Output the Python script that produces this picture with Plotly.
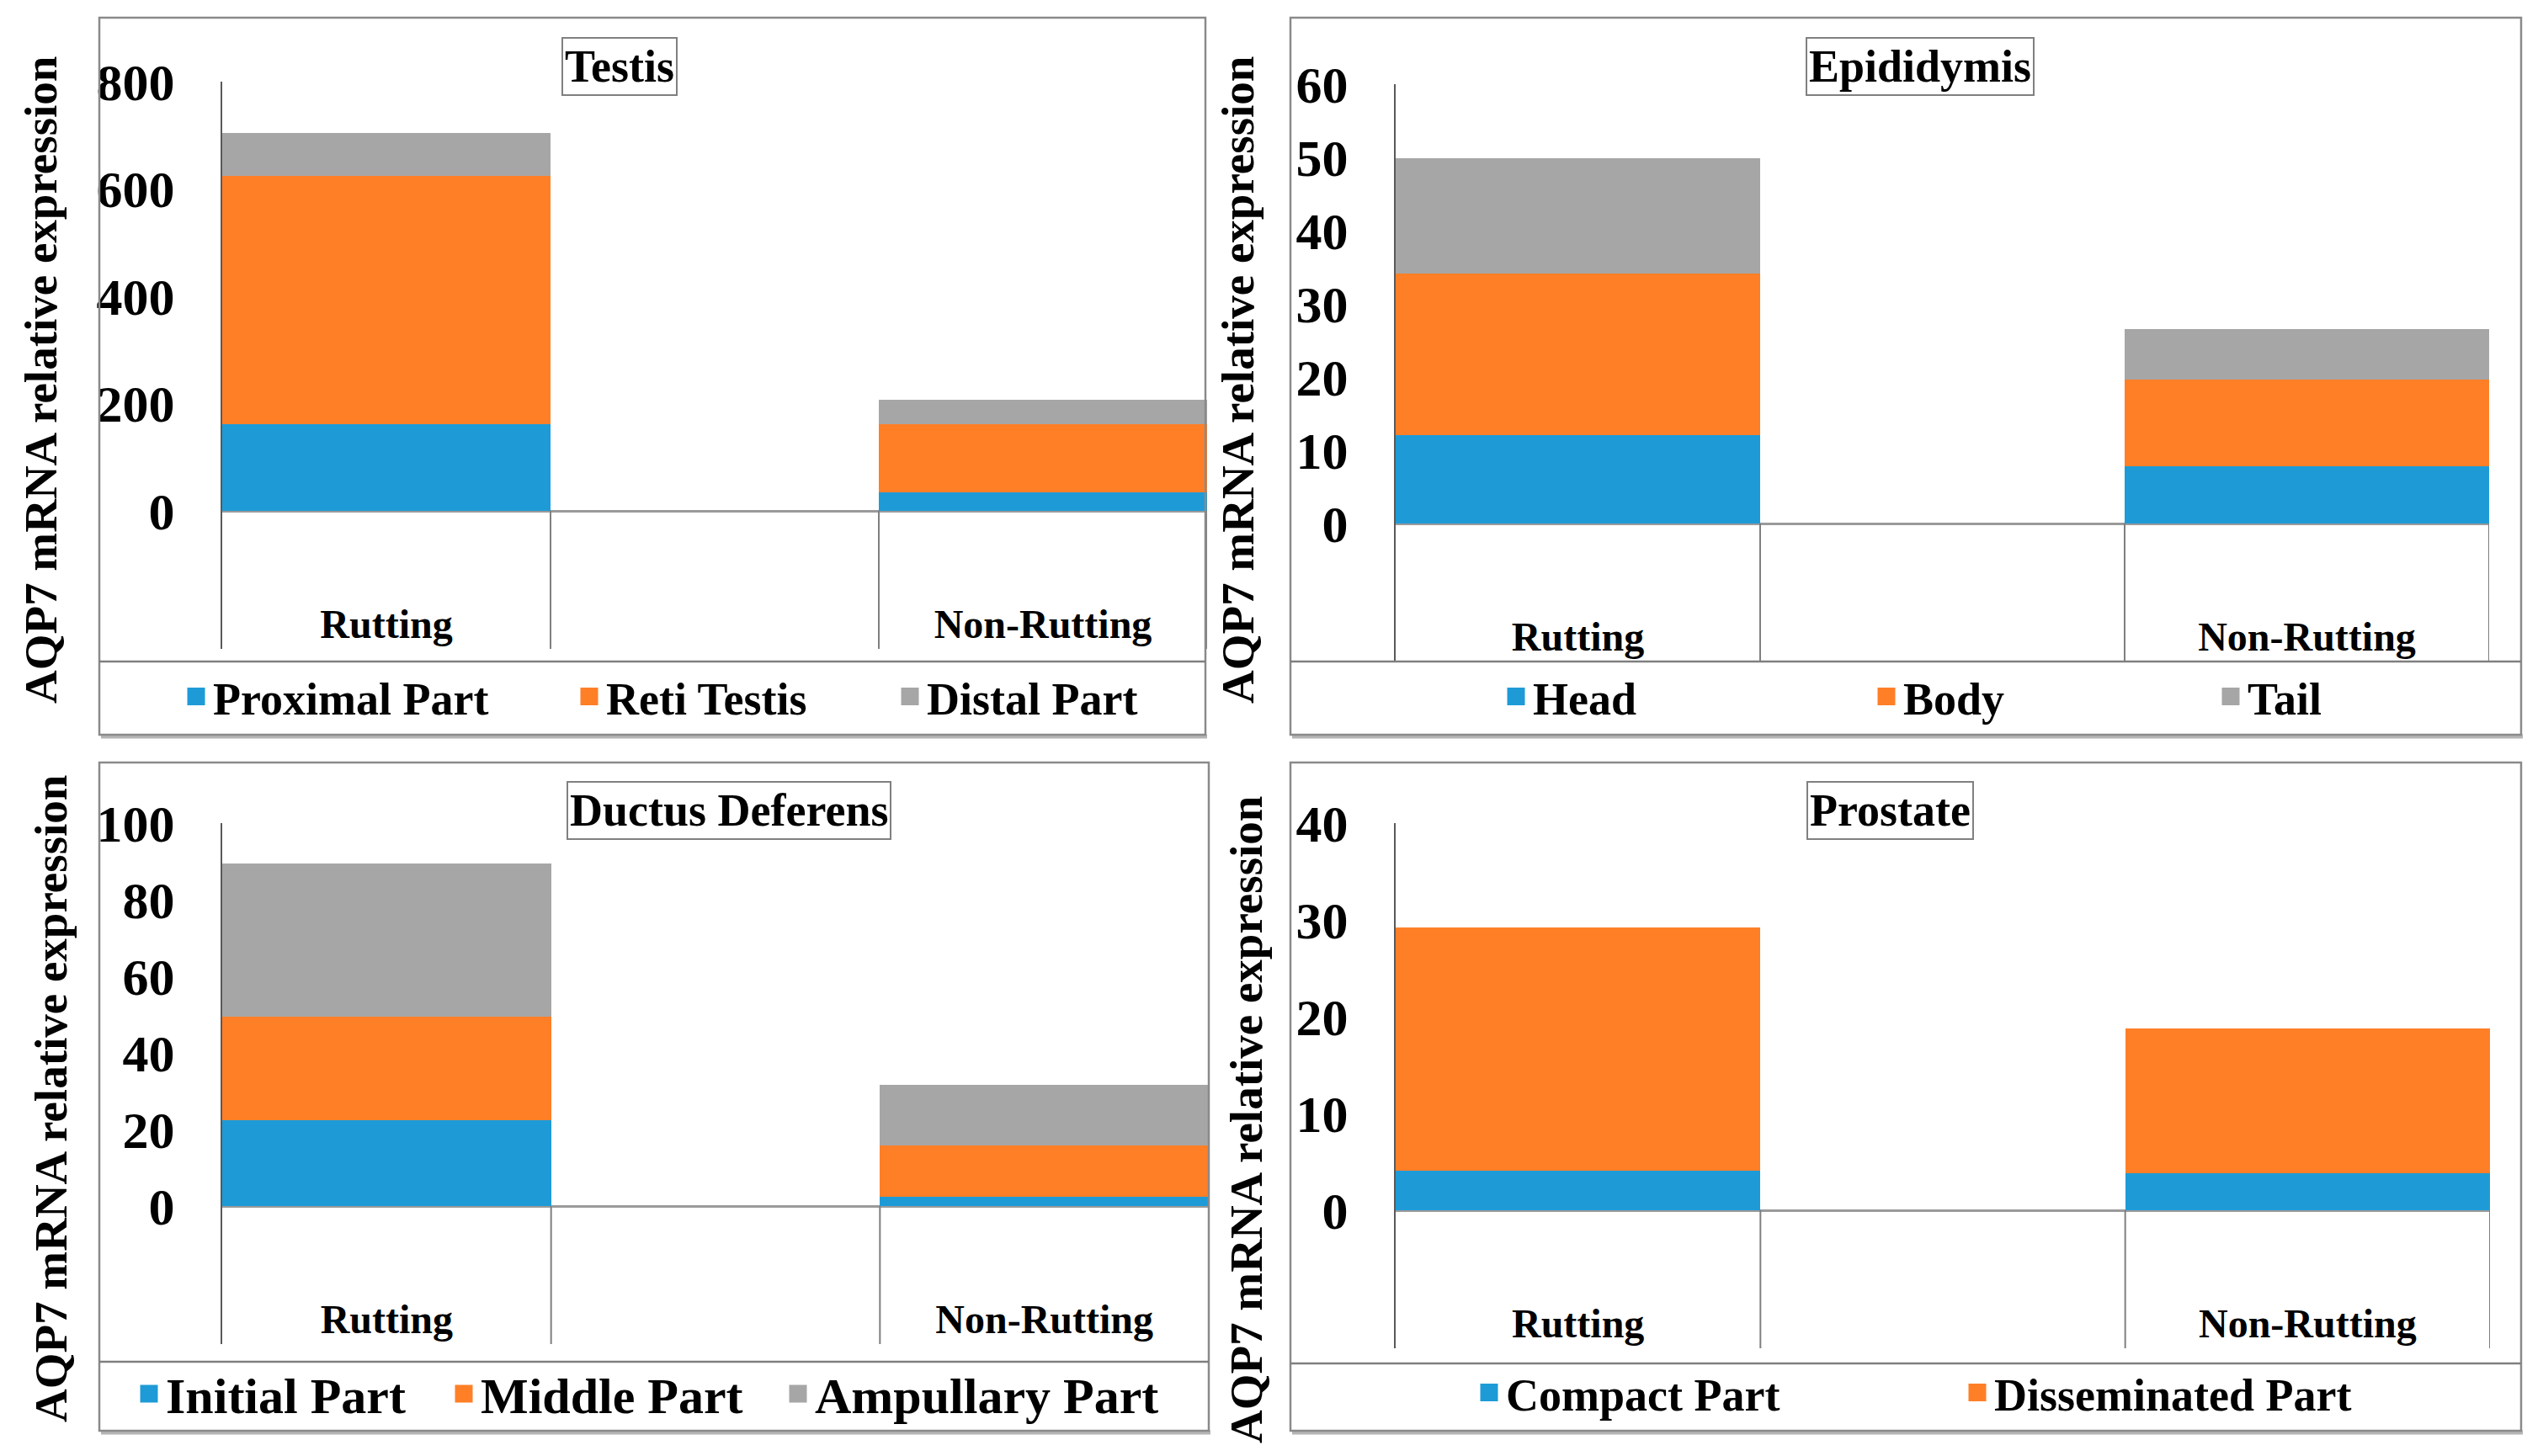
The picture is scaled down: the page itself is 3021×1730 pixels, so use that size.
import plotly.graph_objects as go

W, H = 3021, 1730
OFF = 8  # page body margin in the browser
FONT = "Liberation Serif"

GROUPS = ["Rutting", " ", "Non-Rutting"]

TESTIS_PARTS = ["Proximal Part", "Reti Testis", "Distal Part"]
TESTIS_RUTTING = [162, 463, 80]
TESTIS_NONRUTTING = [35, 126, 46]
TESTIS_TICKS = [0, 200, 400, 600, 800]

EPI_PARTS = ["Head", "Body", "Tail"]
EPI_RUTTING = [12.1, 22.0, 15.8]
EPI_NONRUTTING = [7.8, 11.9, 6.8]
EPI_TICKS = [0, 10, 20, 30, 40, 50, 60]

DUCT_PARTS = ["Initial Part", "Middle Part", "Ampullary Part"]
DUCT_RUTTING = [22.4, 27.0, 40.1]
DUCT_NONRUTTING = [2.4, 13.4, 15.9]
DUCT_TICKS = [0, 20, 40, 60, 80, 100]

PROS_PARTS = ["Compact Part", "Disseminated Part"]
PROS_RUTTING = [4.1, 25.1]
PROS_NONRUTTING = [3.8, 15.0]
PROS_TICKS = [0, 10, 20, 30, 40]

COLORS = ["#1E9BD7", "#FF7F27", "#A6A6A6"]
Y_TITLE = "AQP7 mRNA relative expression"

PANELS = [
    dict(title="Testis", parts=TESTIS_PARTS, r=TESTIS_RUTTING, n=TESTIS_NONRUTTING,
         ticks=TESTIS_TICKS, box=(118, 21, 1432, 873), plot=(264, 97, 1434, 771),
         ymin=-257, sep=786, title_xy=(736, 79), ytitle_xy=(49, 452),
         legend_x=[221, 688, 1069], legend_y=828, legend_font=54),
    dict(title="Epididymis", parts=EPI_PARTS, r=EPI_RUTTING, n=EPI_NONRUTTING,
         ticks=EPI_TICKS, box=(1533, 21, 2995, 873), plot=(1658, 100, 2957, 786),
         ymin=-18.85, sep=786, title_xy=(2281, 79), ytitle_xy=(1471, 452),
         legend_x=[1789, 2229, 2638], legend_y=828, legend_font=54),
    dict(title="Ductus Deferens", parts=DUCT_PARTS, r=DUCT_RUTTING, n=DUCT_NONRUTTING,
         ticks=DUCT_TICKS, box=(118, 906, 1436, 1700), plot=(264, 978, 1436, 1597),
         ymin=-36, sep=1618, title_xy=(866, 963), ytitle_xy=(60, 1306),
         legend_x=[165, 539, 936], legend_y=1656, legend_font=60),
    dict(title="Prostate", parts=PROS_PARTS, r=PROS_RUTTING, n=PROS_NONRUTTING,
         ticks=PROS_TICKS, box=(1533, 906, 2995, 1700), plot=(1658, 978, 2958, 1602),
         ymin=-14.26, sep=1620, title_xy=(2245, 963), ytitle_xy=(1480, 1331),
         legend_x=[1757, 2337], legend_y=1655, legend_font=54),
]


def px(x):
    return (x - OFF) / W


def py(y):
    return 1 - (y - OFF) / H


fig = go.Figure()
shapes = []
annotations = []
layout = {}
legend_count = 0

for i, p in enumerate(PANELS, start=1):
    sfx = "" if i == 1 else str(i)
    xa, ya = "x" + sfx, "y" + sfx
    x0, y0, x1, y1 = p["plot"]
    layout["xaxis" + sfx] = dict(
        domain=[px(x0), px(x1)], anchor=ya, type="category",
        categoryorder="array", categoryarray=GROUPS, range=[-0.5, 2.5],
        showline=False, showgrid=False, zeroline=False, ticks="",
        ticklabelposition="inside", fixedrange=True, automargin=False,
        tickfont=dict(size=48, family=FONT, color="black", weight="bold"),
    )
    layout["yaxis" + sfx] = dict(
        domain=[py(y1), py(y0)], anchor=xa, range=[p["ymin"], p["ticks"][-1]],
        tickvals=p["ticks"], ticktext=[str(t) for t in p["ticks"]],
        showline=True, linecolor="#595959", linewidth=2,
        showgrid=False, zeroline=True, zerolinecolor="#9a9a9a", zerolinewidth=3,
        ticks="", ticklabelstandoff=42, fixedrange=True, automargin=False,
        tickfont=dict(size=62, family=FONT, color="black", weight="bold"),
    )
    for j, part in enumerate(p["parts"]):
        fig.add_trace(go.Bar(
            x=GROUPS, y=[p["r"][j], None, p["n"][j]], name=part,
            marker=dict(color=COLORS[j], line=dict(width=0)),
            xaxis=xa, yaxis=ya, showlegend=False,
        ))
        legend_count += 1
        lname = "legend" if legend_count == 1 else "legend%d" % legend_count
        fig.add_trace(go.Scatter(
            x=[None], y=[None], mode="markers", name=part,
            marker=dict(symbol="square", size=16, color=COLORS[j],
                        line=dict(color=COLORS[j], width=5)),
            xaxis=xa, yaxis=ya, legend=lname, showlegend=True, hoverinfo="skip",
        ))
        layout[lname] = dict(
            x=px(p["legend_x"][j] - 8), y=py(p["legend_y"]),
            xanchor="left", yanchor="middle", orientation="h",
            bgcolor="rgba(0,0,0,0)", borderwidth=0,
            font=dict(size=p["legend_font"], family=FONT, color="black", weight="bold"),
        )
    # category dividers (long category-axis tick marks)
    for xv in [0.5, 1.5, 2.5]:
        shapes.append(dict(type="line", xref=xa, yref=ya, x0=xv, x1=xv,
                           y0=p["ymin"], y1=0, line=dict(color="#7f7f7f", width=2)))
    # panel frame
    bx0, by0, bx1, by1 = p["box"]
    shapes.append(dict(type="line", xref="paper", yref="paper",
                       x0=px(bx0 + 2), x1=px(bx1 + 2), y0=py(by1 + 2), y1=py(by1 + 2),
                       line=dict(color="#b4b4b4", width=5)))
    shapes.append(dict(type="rect", xref="paper", yref="paper",
                       x0=px(bx0), x1=px(bx1), y0=py(by1), y1=py(by0),
                       line=dict(color="#8a8a8a", width=2.5)))
    shapes.append(dict(type="line", xref="paper", yref="paper",
                       x0=px(bx0), x1=px(bx1), y0=py(p["sep"]), y1=py(p["sep"]),
                       line=dict(color="#7f7f7f", width=2.5)))
    # panel title
    tx, ty = p["title_xy"]
    annotations.append(dict(
        text=p["title"], xref="paper", yref="paper", x=px(tx), y=py(ty),
        xanchor="center", yanchor="middle", showarrow=False,
        font=dict(size=54, family=FONT, color="black", weight="bold"),
        bgcolor="white", bordercolor="#808080", borderwidth=2, borderpad=2, height=62,
    ))
    # y-axis title
    yx, yy = p["ytitle_xy"]
    annotations.append(dict(
        text=Y_TITLE, xref="paper", yref="paper", x=px(yx), y=py(yy),
        xanchor="center", yanchor="middle", showarrow=False, textangle=-90,
        font=dict(size=55, family=FONT, color="black", weight="bold"),
    ))

fig.update_layout(
    width=W, height=H, margin=dict(l=0, r=0, t=0, b=0, autoexpand=False),
    paper_bgcolor="white", plot_bgcolor="white",
    barmode="stack", bargap=0,
    font=dict(family=FONT, color="black"),
    shapes=shapes, annotations=annotations,
    **layout,
)

fig.write_html("out.html")
